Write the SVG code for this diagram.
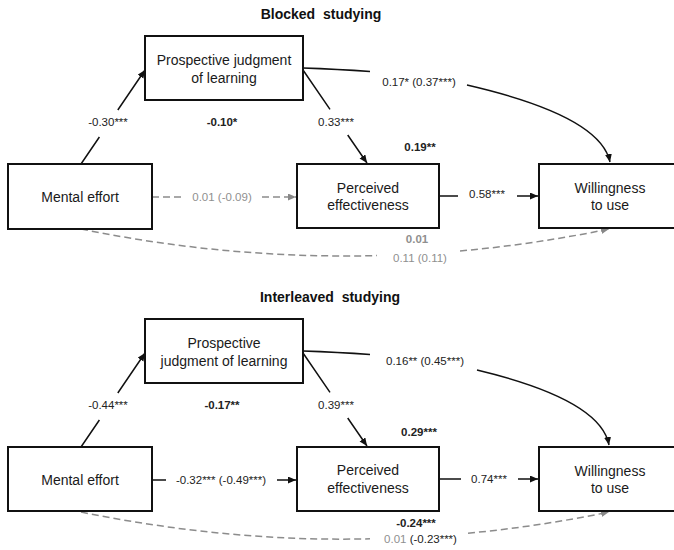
<svg xmlns="http://www.w3.org/2000/svg" width="674" height="550" viewBox="0 0 674 550">
<defs>
<marker id="ah" markerUnits="userSpaceOnUse" markerWidth="9" markerHeight="8" refX="8" refY="3.5" orient="auto"><path d="M0,0 L8,3.5 L0,7 z" fill="#111"/></marker>
<marker id="ahg" markerUnits="userSpaceOnUse" markerWidth="9" markerHeight="8" refX="8" refY="3.5" orient="auto"><path d="M0,0 L8,3.5 L0,7 z" fill="#888"/></marker>
<style>
.box{fill:#fff;stroke:#111;stroke-width:2}
.nt{font-family:"Liberation Sans",Arial,sans-serif;font-size:14px;fill:#1a1a1a;text-anchor:middle}
.tt{font-family:"Liberation Sans",Arial,sans-serif;font-size:14px;font-weight:bold;fill:#111;text-anchor:middle;white-space:pre}
.el{font-family:"Liberation Sans",Arial,sans-serif;font-size:11.5px;fill:#222;text-anchor:middle}
.b{font-weight:bold}
.g{fill:#8f8f8f}
.ln{fill:none;stroke:#111;stroke-width:1.5}
.dl{fill:none;stroke:#8c8c8c;stroke-width:1.5;stroke-dasharray:7 4}
</style>
</defs>
<rect width="674" height="550" fill="#fff"/>

<text class="tt" x="321" y="19" xml:space="preserve">Blocked  studying</text>
<text class="tt" x="330" y="302" xml:space="preserve">Interleaved  studying</text>

<g id="connectors">
<!-- top -->
<path class="ln" d="M81,164 L99.4,137 M117.8,110 L145,70" marker-end="url(#ah)"/>
<path class="ln" d="M303,70 L330,109.3 M347.7,135 L367,163" marker-end="url(#ah)"/>
<path class="ln" d="M303,68 Q338,69 370,71.5"/>
<path class="ln" d="M467,85 C545,103 603,128 610,162" marker-end="url(#ah)"/>
<path class="ln" d="M439,196 L458,196 M517,196 L538,196" marker-end="url(#ah)"/>
<path class="dl" d="M152,197 L182,197 M262,197 L296,197" marker-end="url(#ahg)"/>
<path class="dl" d="M81,229 Q228.8,259.2 377,255.6"/>
<path class="dl" d="M460,251 Q534.7,244.3 609,229" marker-end="url(#ahg)"/>
<!-- bottom -->
<path class="ln" d="M81,447 L99.4,420 M117.8,393 L145,353" marker-end="url(#ah)"/>
<path class="ln" d="M303,353 L330,392.3 M347.7,418 L367,446" marker-end="url(#ah)"/>
<path class="ln" d="M303,351 Q338,352 370,354.5"/>
<path class="ln" d="M477,370 C552,388 603,412 609,445" marker-end="url(#ah)"/>
<path class="ln" d="M439,479 L461,479 M518,479 L538,479" marker-end="url(#ah)"/>
<path class="ln" d="M152,480 L166,480 M277,480 L296,480" marker-end="url(#ah)"/>
<path class="dl" d="M81,512 Q228.8,542.2 370,538.8"/>
<path class="dl" d="M468,533.2 Q538.9,526.5 609,512" marker-end="url(#ahg)"/>

<!-- labels top -->
<text class="el" x="108" y="126">-0.30***</text>
<text class="el b" x="222" y="126">-0.10*</text>
<text class="el" x="336" y="126">0.33***</text>
<text class="el b" x="420" y="151">0.19**</text>
<text class="el" x="419" y="86">0.17* (0.37***)</text>
<text class="el" x="487" y="198">0.58***</text>
<text class="el g" x="222" y="201">0.01 (-0.09)</text>
<text class="el b g" x="417" y="243">0.01</text>
<text class="el g" x="420" y="262">0.11 (0.11)</text>
<!-- labels bottom -->
<text class="el" x="108" y="409">-0.44***</text>
<text class="el b" x="222" y="409">-0.17**</text>
<text class="el" x="336" y="409">0.39***</text>
<text class="el b" x="419" y="436">0.29***</text>
<text class="el" x="425" y="365">0.16** (0.45***)</text>
<text class="el" x="489" y="483">0.74***</text>
<text class="el" x="221" y="484">-0.32*** (-0.49***)</text>
<text class="el b" x="416" y="527">-0.24***</text>
<text class="el" x="420.5" y="543"><tspan class="g">0.01</tspan> (-0.23***)</text>
</g>

<g id="pjol-blocked">
<rect class="box" x="145" y="36" width="158" height="64"/>
<text class="nt" x="224" y="65">Prospective judgment</text>
<text class="nt" x="224" y="83">of learning</text>
</g>
<g id="effort-blocked">
<rect class="box" x="8" y="164" width="144" height="65"/>
<text class="nt" x="80" y="202">Mental effort</text>
</g>
<g id="perceived-blocked">
<rect class="box" x="297" y="164" width="142" height="64"/>
<text class="nt" x="368" y="193">Perceived</text>
<text class="nt" x="368" y="210">effectiveness</text>
</g>
<g id="willing-blocked">
<rect class="box" x="539" y="164" width="142" height="64"/>
<text class="nt" x="610" y="193">Willingness</text>
<text class="nt" x="610" y="210">to use</text>
</g>

<g id="pjol-interleaved">
<rect class="box" x="145" y="319" width="158" height="64"/>
<text class="nt" x="224" y="348">Prospective</text>
<text class="nt" x="224" y="366">judgment of learning</text>
</g>
<g id="effort-interleaved">
<rect class="box" x="8" y="447" width="144" height="64"/>
<text class="nt" x="80" y="485">Mental effort</text>
</g>
<g id="perceived-interleaved">
<rect class="box" x="297" y="447" width="142" height="64"/>
<text class="nt" x="368" y="475">Perceived</text>
<text class="nt" x="368" y="493">effectiveness</text>
</g>
<g id="willing-interleaved">
<rect class="box" x="539" y="447" width="142" height="64"/>
<text class="nt" x="610" y="476">Willingness</text>
<text class="nt" x="610" y="493">to use</text>
</g>
</svg>
